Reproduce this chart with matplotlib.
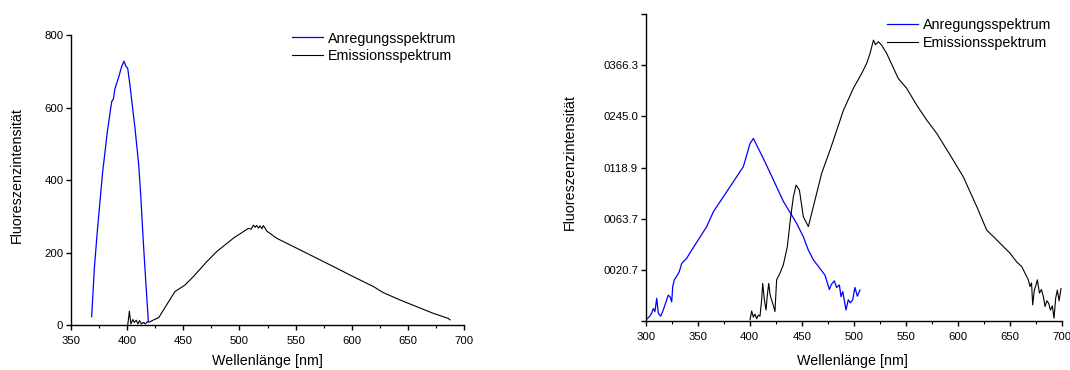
import matplotlib
matplotlib.use("Agg")
import matplotlib.pyplot as plt
from matplotlib.ticker import MultipleLocator

plt.rcParams['font.family'] = ['Liberation Sans', 'DejaVu Sans']

# ---- left chart data ----
ex1_wl = [368.4, 370.8, 373.4, 375.8, 378.2, 380.3, 382.3, 384.1, 386.2, 387.7, 389.2,
          392.2, 395.1, 397.2, 398.7, 400.5, 402.5, 404.9, 407.0, 408.5, 410.3, 412.1,
          414.4, 416.8, 418.9]
ex1_int = [24, 157, 258, 341, 423, 478, 533, 570, 616, 623, 653,
           681, 713, 728, 715, 708, 662, 598, 543, 497, 442, 359,
           230, 111, 10]
em1_wl = [400.5, 402.0, 403.3, 405.1, 406.3, 408.1, 409.6, 411.1, 412.6, 414.6, 416.1,
          418.2, 420.0, 423.6, 428.1, 431.1, 435.5, 442.6, 451.5, 458.9, 470.8,
          479.7, 494.6, 507.9, 510.5, 512.4, 514.0, 515.3, 517.0, 518.3, 520.0, 521.3,
          522.8, 524.2, 533.1, 553.9, 583.6, 601.4, 619.2, 628.1, 642.9, 672.6, 686.0, 687.5]
em1_int = [0, 39, 4, 16, 8, 14, 4, 13, 4, 8, 4,
           10, 9, 15, 21, 36, 58, 93, 111, 134, 175,
           203, 240, 267, 265, 276, 270, 275, 268, 274, 266, 275,
           268, 260, 240, 208, 162, 134, 107, 90, 70, 33, 19, 15]

# ---- right chart data (vertical position in tick steps) ----
ex2_wl = [300.3, 303.5, 305.8, 307.3, 308.9, 310.6, 312.1, 314.4, 316.9, 320.2, 321.7,
          323.4, 325.0, 326.0, 327.5, 329.8, 332.3, 334.6, 339.4, 344.2, 358.7, 365.1,
          377.9, 393.9, 400.3, 403.5, 406.7, 413.1, 422.8, 432.4, 445.2, 451.6, 456.4,
          461.2, 467.6, 472.4, 476.6, 478.5, 481.4, 483.5, 486.2, 487.8, 489.5, 492.6,
          494.8, 496.8, 499.0, 501.2, 503.5, 506.0]
ex2_int = [0.03, 0.09, 0.16, 0.25, 0.19, 0.45, 0.16, 0.10, 0.22, 0.42, 0.51,
           0.48, 0.38, 0.68, 0.81, 0.88, 0.97, 1.13, 1.23, 1.39, 1.85, 2.14,
           2.53, 3.02, 3.47, 3.57, 3.44, 3.18, 2.76, 2.34, 1.91, 1.65, 1.39,
           1.20, 1.03, 0.90, 0.62, 0.72, 0.79, 0.66, 0.71, 0.48, 0.58, 0.22,
           0.42, 0.36, 0.42, 0.66, 0.49, 0.61]
em2_wl = [400.3, 401.9, 403.5, 405.1, 406.7, 408.3, 409.9, 411.5, 412.5, 414.1, 415.7,
          417.0, 418.3, 419.6, 421.0, 422.6, 424.3, 425.9, 429.1, 432.3, 436.2,
          439.4, 442.0, 444.6, 447.8, 451.6, 456.4, 461.2, 469.2, 477.2, 483.7,
          490.1, 499.7, 507.7, 512.5, 515.7, 519.0, 521.0, 523.7, 526.9, 531.7,
          542.9, 550.9, 560.6, 570.2, 579.8, 592.6, 605.4, 618.3, 627.9, 637.5,
          642.3, 650.3, 656.7, 661.5, 664.7, 667.9, 669.5, 671.0, 672.1, 673.7,
          675.2, 676.6, 678.6, 680.5, 682.4, 684.0, 685.7, 687.5, 689.2, 691.0,
          692.6, 694.2, 695.8, 697.5, 699.3]
em2_int = [0.03, 0.20, 0.08, 0.14, 0.05, 0.12, 0.10, 0.42, 0.74, 0.42, 0.22,
           0.52, 0.74, 0.52, 0.42, 0.32, 0.19, 0.81, 0.94, 1.10, 1.46,
           2.04, 2.43, 2.66, 2.56, 2.04, 1.85, 2.24, 2.89, 3.34, 3.73,
           4.12, 4.55, 4.84, 5.04, 5.23, 5.49, 5.40, 5.46, 5.39, 5.23,
           4.74, 4.55, 4.22, 3.93, 3.67, 3.25, 2.82, 2.24, 1.78, 1.59,
           1.49, 1.33, 1.16, 1.07, 0.94, 0.81, 0.68, 0.75, 0.32, 0.61,
           0.70, 0.81, 0.55, 0.62, 0.48, 0.29, 0.40, 0.35, 0.22, 0.30,
           0.06, 0.45, 0.61, 0.40, 0.64]

left_yticks = [0, 200, 400, 600, 800]
right_ytick_pos = [0, 1, 2, 3, 4, 5, 6]
right_ytick_labels = ['', '0020.7', '0063.7', '0118.9', '0245.0', '0366.3', '']

legend_labels = ['Anregungsspektrum', 'Emissionsspektrum']
xlabel = 'Wellenlänge [nm]'
ylabel = 'Fluoreszenzintensität'

BLUE = '#0000ff'
FS = 10.3
TFS = 8.2
fig = plt.figure(figsize=(10.7, 3.7), dpi=100)

def style(ax):
    for s in ('top', 'right'):
        ax.spines[s].set_visible(False)
    for s in ('left', 'bottom'):
        ax.spines[s].set_linewidth(1.0)
    ax.tick_params(axis='both', which='major', direction='out', length=3.5, width=1.0,
                   labelsize=TFS, pad=2)
    ax.tick_params(axis='x', which='major', pad=4.5)
    ax.tick_params(axis='both', which='minor', direction='out', length=2.5, width=0.8)
    ax.xaxis.set_minor_locator(MultipleLocator(25))

def legend(handles, x_px, top_px):
    fig.legend(handles, legend_labels, loc='upper left',
               bbox_to_anchor=(x_px/1070, 1 - top_px/370),
               frameon=False, fontsize=FS, handlelength=2.17, handletextpad=0.35,
               borderpad=0, borderaxespad=0, labelspacing=0.22)

# left
ax1 = fig.add_axes([71/1070, 44.7/370, 393/1070, 290.3/370])
l1, = ax1.plot(ex1_wl, ex1_int, color=BLUE, lw=0.9)
l2, = ax1.plot(em1_wl, em1_int, color='black', lw=0.8)
ax1.set_xlim(350, 700)
ax1.set_ylim(0, 800)
ax1.set_xticks([350, 400, 450, 500, 550, 600, 650, 700])
ax1.set_yticks(left_yticks)
style(ax1)
ax1.set_xlabel(xlabel, fontsize=FS)
ax1.set_ylabel(ylabel, fontsize=FS)
ax1.xaxis.set_label_coords(0.501, -0.10)
ax1.yaxis.set_label_coords(-0.12, 0.518)
legend([l1, l2], 292, 31.5)

# right
ax2 = fig.add_axes([645.7/1070, 48.7/370, 416/1070, 307.3/370])
r1, = ax2.plot(ex2_wl, ex2_int, color=BLUE, lw=0.9)
r2, = ax2.plot(em2_wl, em2_int, color='black', lw=0.8)
ax2.set_xlim(300, 700)
ax2.set_ylim(0, 6)
ax2.set_xticks([300, 350, 400, 450, 500, 550, 600, 650, 700])
ax2.set_yticks(right_ytick_pos)
ax2.set_yticklabels(right_ytick_labels)
style(ax2)
ax2.set_xlabel(xlabel, fontsize=FS)
ax2.set_ylabel(ylabel, fontsize=FS)
ax2.xaxis.set_label_coords(0.498, -0.107)
ax2.yaxis.set_label_coords(-0.166, 0.517)
legend([r1, r2], 887, 18.5)

fig.savefig('out.png', dpi=100)
